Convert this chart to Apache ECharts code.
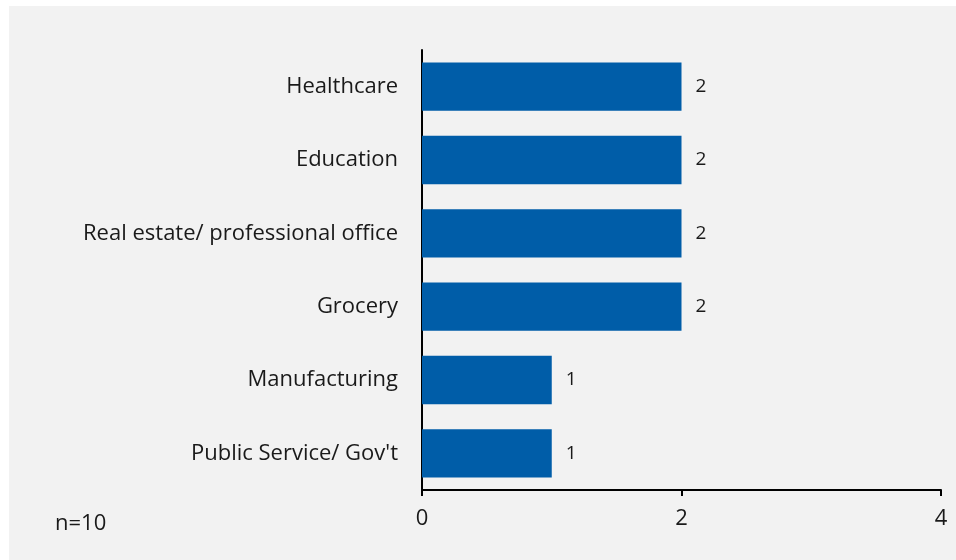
<!DOCTYPE html>
<html>
<head>
<meta charset="utf-8">
<script src="https://cdn.jsdelivr.net/npm/echarts@6/dist/echarts.min.js"></script>
<style>
  html, body { margin: 0; padding: 0; background: #ffffff; }
  #chart { width: 956px; height: 560px; }
</style>
</head>
<body>
<div id="chart"></div>
<script>
// Sectors, listed bottom to top as the category axis draws them
const categories = ['Public Service/ Gov\'t', 'Manufacturing', 'Grocery', 'Real estate/ professional office', 'Education', 'Healthcare'];
const counts = [1, 1, 2, 2, 2, 2];
const xTicks = [0, 2, 4];
const note = 'n=10';

const font = '"Open Sans", Lato, sans-serif';
const chart = echarts.init(document.getElementById('chart'), null, { renderer: 'canvas' });

chart.setOption({
  backgroundColor: '#ffffff',
  animation: false,
  graphic: [
    { type: 'rect', shape: { x: 9, y: 6, width: 947, height: 554 }, style: { fill: '#f2f2f2' }, z: -10 },
    { type: 'text', x: 55, y: 524, style: { text: note, font: '22px ' + font, fill: '#1a1a1a', verticalAlign: 'middle' } }
  ],
  grid: { left: 422, right: 15, top: 50, bottom: 70, containLabel: false },
  xAxis: {
    type: 'value',
    min: xTicks[0],
    max: xTicks[xTicks.length - 1],
    interval: xTicks[1] - xTicks[0],
    axisLine: { show: true, lineStyle: { color: '#000000', width: 2 } },
    axisTick: { show: true, length: 6, lineStyle: { color: '#000000', width: 2 } },
    splitLine: { show: false },
    axisLabel: { color: '#1a1a1a', fontSize: 22, fontFamily: font, margin: 18 }
  },
  yAxis: {
    type: 'category',
    data: categories,
    axisLine: { show: true, lineStyle: { color: '#000000', width: 2 } },
    axisTick: { show: false },
    axisLabel: { color: '#1a1a1a', fontSize: 22, fontFamily: font, margin: 24 }
  },
  series: [{
    type: 'bar',
    data: counts,
    barWidth: '66%',
    itemStyle: { color: '#005da8' },
    label: { show: true, position: 'right', distance: 14, color: '#1a1a1a', fontSize: 19, fontFamily: font }
  }]
});
</script>
</body>
</html>
